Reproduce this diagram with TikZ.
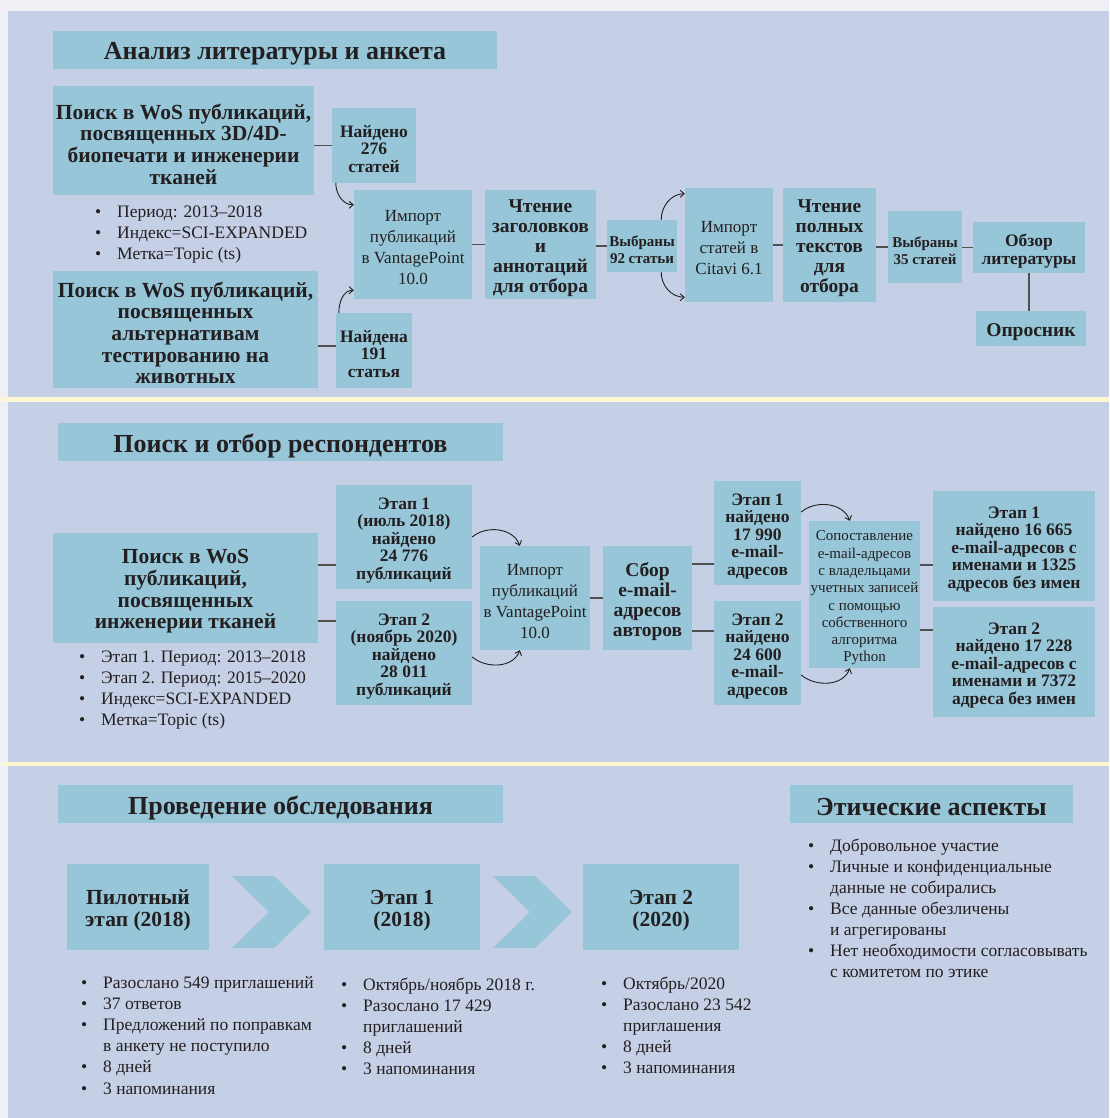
\documentclass[tikz,border=0pt]{standalone}
\usepackage{fontspec}
\setmainfont{Liberation Serif}[BoldFont={Liberation Serif Bold},ItalicFont={Liberation Serif Italic}]
\usetikzlibrary{arrows.meta}
\definecolor{outerbg}{HTML}{EEF0F5}
\definecolor{panelc}{HTML}{C5CFE6}
\definecolor{boxc}{HTML}{96C6D8}
\definecolor{sepc}{HTML}{FDF8D2}
\definecolor{txtc}{HTML}{231F20}
\definecolor{lnc}{HTML}{505050}
\newcommand\bx[7]{\node[boxf,minimum width={#4pt-#2pt},minimum height={#5pt-#3pt}] (#1) at ({(#2+#4)/2},{(#3+#5)/2}) {};
 \node[boxt,#6] (#1t) at ([yshift=-3.5pt]#1.center) {#7};}
\newcommand\bul{\llap{•\hspace{16pt}}}
\newcommand\blist[5]{\foreach \t [count=\i] in {#5}{\node[lst] (#1\i) at (#2,{#3+(\i-1)*#4}) {\t};}}
\begin{document}
\begin{tikzpicture}[x=1pt,y=-1pt,
 boxf/.style={fill=boxc,inner sep=0pt},
 boxt/.style={inner sep=0pt,align=center,text=txtc},
 ttl/.style={font=\bfseries\fontsize{26}{28}\selectfont},
 bbig/.style={font=\bfseries\fontsize{21.5}{21.7}\selectfont},
 bmid/.style={font=\bfseries\fontsize{19.5}{20}\selectfont},
 bsm/.style={font=\bfseries\fontsize{17.5}{17.5}\selectfont},
 bxs/.style={font=\bfseries\fontsize{15}{17.5}\selectfont},
 rmid/.style={font=\fontsize{17}{21}\selectfont},
 rsm/.style={font=\fontsize{15}{17.3}\selectfont},
 lst/.style={anchor=base west,inner sep=0pt,text=txtc,font=\fontsize{17.5}{21}\selectfont},
 ln/.style={draw=lnc,line width=1.4pt},
 arr/.style={draw=txtc,line width=0.9pt,-{Straight Barb[length=4pt,width=7pt]}}]
\useasboundingbox (0,0) rectangle (1109,1118);
\fill[outerbg] (0,0) rectangle (1109,1118);
\fill[panelc] (8,11) rectangle (1109,1118);
\fill[sepc] (1,397) rectangle (1109,401.5);
\fill[sepc] (1,761.5) rectangle (1109,766);
% ---------- panel 1
\bx{T1}{53}{31}{497}{69}{ttl}{Анализ литературы и анкета}
\bx{A1}{53}{86}{314}{195}{bbig}{Поиск в WoS публикаций,\\посвященных 3D/4D-\\биопечати и инженерии\\тканей}
\bx{A2}{53}{271}{318}{388}{bbig}{Поиск в WoS публикаций,\\посвященных\\альтернативам\\тестированию на\\животных}
\bx{N276}{332}{108}{416}{183}{bsm}{Найдено\\276\\статей}
\bx{N191}{336}{313}{412}{388}{bsm}{Найдена\\191\\статья}
\bx{Imp1}{354}{190}{472}{299}{rmid}{Импорт\\публикаций\\в VantagePoint\\10.0}
\bx{Rd1}{485}{190}{596}{299}{bmid}{Чтение\\заголовков\\и\\аннотаций\\для отбора}
\bx{S92}{607}{220}{677}{272}{bxs}{Выбраны\\92 статьи}
\bx{Cit}{685}{188}{773}{302}{rmid}{Импорт\\статей в\\Citavi 6.1}
\bx{Rd2}{783}{188}{876}{302}{bmid}{Чтение\\полных\\текстов\\для\\отбора}
\bx{S35}{888}{211}{962}{283}{bxs}{Выбраны\\35 статей}
\bx{Rev}{973}{222}{1085}{273}{bsm}{Обзор\\литературы}
\bx{Qst}{976}{311}{1086}{346}{bmid}{Опросник}
\blist{pa}{117}{217}{21}{\bul Период: 2013–2018,\bul Индекс=SCI-EXPANDED,\bul Метка=Topic (ts)}
\draw[ln] (A1.east |- N276.west) -- (N276.west);
\coordinate (c191) at ([yshift=4.5pt]N191.west);
\draw[ln] (A2.east |- c191) -- (c191);
\draw[arr] ([xshift=4pt]N276.south west) to[out=-90,in=180] ([yshift=-15pt]Imp1.north west);
\draw[arr] ([xshift=3pt]N191.north west) to[out=90,in=180] ([yshift=9pt]Imp1.south west);
\draw[ln] (Imp1.east) -- (Rd1.west);
\draw[ln] (Rd1.east |- S92.west) -- (S92.west);
\draw[arr] ([xshift=-16pt]S92.north east) to[out=90,in=180] ([yshift=-6pt]Cit.north west);
\draw[arr] ([xshift=-16pt]S92.south east) to[out=-90,in=180] ([yshift=5pt]Cit.south west);
\draw[ln] (Cit.east) -- (Rd2.west);
\draw[ln] (Rd2.east |- S35.west) -- (S35.west);
\draw[ln] (S35.east |- Rev.west) -- (Rev.west);
\draw[ln] (Rev.south) -- (Rev.south |- Qst.north);
% ---------- panel 2
\bx{T2}{58}{423}{503}{461}{ttl}{Поиск и отбор респондентов}
\bx{B1}{53}{533}{318}{643}{bbig}{Поиск в WoS\\публикаций,\\посвященных\\инженерии тканей}
\bx{E1}{336}{485}{472}{589}{bsm}{Этап 1\\(июль 2018)\\найдено\\24 776\\публикаций}
\bx{E2}{336}{601}{472}{705}{bsm}{Этап 2\\(ноябрь 2020)\\найдено\\28 011\\публикаций}
\bx{Imp2}{480}{546}{590}{650}{rmid}{Импорт\\публикаций\\в VantagePoint\\10.0}
\bx{Sb}{603}{546}{692}{650}{bmid}{Сбор\\e-mail-\\адресов\\авторов}
\bx{E1b}{714}{481}{801}{585}{bsm}{Этап 1\\найдено\\17 990\\e-mail-\\адресов}
\bx{E2b}{714}{601}{801}{705}{bsm}{Этап 2\\найдено\\24 600\\e-mail-\\адресов}
\bx{Sp}{809}{521}{920}{668}{rsm}{Сопоставление\\e-mail-адресов\\с владельцами\\учетных записей\\с помощью\\собственного\\алгоритма\\Python}
\bx{F1}{933}{491}{1095}{601}{bsm}{Этап 1\\найдено 16 665\\e-mail-адресов с\\именами и 1325\\адресов без имен}
\bx{F2}{933}{607}{1095}{717}{bsm}{Этап 2\\найдено 17 228\\e-mail-адресов с\\именами и 7372\\адреса без имен}
\blist{pb}{101}{662}{21}{\bul Этап 1. Период: 2013–2018,\bul Этап 2. Период: 2015–2020,\bul Индекс=SCI-EXPANDED,\bul Метка=Topic (ts)}
\coordinate (l1) at ([yshift=-28pt]E1.west);
\coordinate (l2) at ([yshift=32pt]E2.west);
\draw[ln] (B1.east |- l1) -- (l1);
\draw[ln] (B1.east |- l2) -- (l2);
\draw[arr] (E1.east) to[out=40,in=110] ([xshift=40pt]Imp2.north west);
\draw[arr] ([yshift=-4pt]E2.east) to[out=-40,in=-110] ([xshift=40pt]Imp2.south west);
\draw[ln] (Imp2.east) -- (Sb.west);
\coordinate (l3) at ([yshift=-31pt]E1b.west);
\coordinate (l4) at ([yshift=22pt]E2b.west);
\draw[ln] (Sb.east |- l3) -- (l3);
\draw[ln] (Sb.east |- l4) -- (l4);
\draw[arr] ([yshift=21pt]E1b.east) to[out=40,in=110] ([xshift=41pt]Sp.north west);
\draw[arr] ([yshift=-22pt]E2b.east) to[out=-40,in=-110] ([xshift=41pt]Sp.south west);
\coordinate (l5) at ([yshift=-19pt]F1.west);
\coordinate (l6) at ([yshift=32pt]F2.west);
\draw[ln] (Sp.east |- l5) -- (l5);
\draw[ln] (Sp.east |- l6) -- (l6);
% ---------- panel 3
\bx{T3}{58}{785}{503}{823}{ttl}{Проведение обследования}
\bx{T4}{790}{785}{1073}{823}{ttl}{Этические аспекты}
\bx{Pl}{67}{864}{209}{950}{bbig}{Пилотный\\этап (2018)}
\bx{E1c}{324}{864}{480}{950}{bbig}{Этап 1\\(2018)}
\bx{E2c}{583}{864}{739}{950}{bbig}{Этап 2\\(2020)}
\fill[boxc] (232,876) -- (274,876) -- (311,912) -- (274,948) -- (232,948) -- (269,912) -- cycle;
\fill[boxc] (493,876) -- (535,876) -- (572,912) -- (535,948) -- (493,948) -- (530,912) -- cycle;
\blist{pc}{103}{988}{21.2}{\bul Разослано 549 приглашений,\bul 37 ответов,\bul Предложений по поправкам,в анкету не поступило,\bul 8 дней,\bul 3 напоминания}
\blist{pd}{363}{990}{21}{\bul Октябрь/ноябрь 2018 г.,\bul Разослано 17 429,приглашений,\bul 8 дней,\bul 3 напоминания}
\blist{pe}{623}{989}{21}{\bul Октябрь/2020,\bul Разослано 23 542,приглашения,\bul 8 дней,\bul 3 напоминания}
\blist{pf}{830}{851}{21}{\bul Добровольное участие,\bul Личные и конфиденциальные,данные не собирались,\bul Все данные обезличены,и агрегированы,\bul Нет необходимости согласовывать,с комитетом по этике}
\end{tikzpicture}
\end{document}
